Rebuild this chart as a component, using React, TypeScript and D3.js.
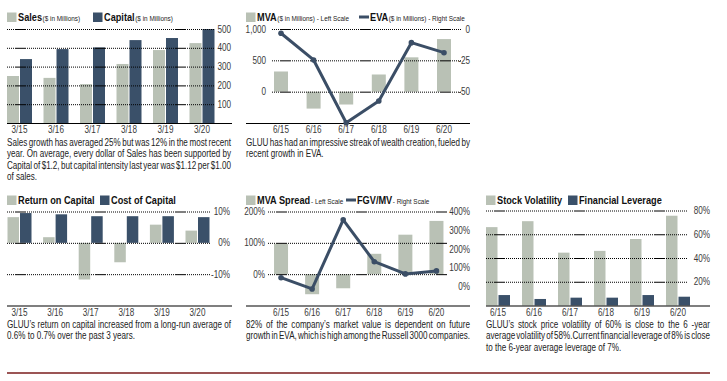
import React from "react";
import * as d3 from "d3";

const FONT = "'Liberation Sans', Arial, sans-serif";
const SX = 0.8; // horizontal condensing of the sans font
const LIGHT = "#b9c1b5";
const DARK = "#3a5069";
const LINE = "#3b4e66";
const TXT = "#222";

// Panel 1
const salesCats = ["3/15", "3/16", "3/17", "3/18", "3/19", "3/20"];
const sales = [250, 240, 207, 314, 388, 425];
const capital = [340, 393, 402, 441, 452, 500];
const salesTicks = [100, 200, 300, 400, 500];
// Panel 2
const mvaCats = ["6/15", "6/16", "6/17", "6/18", "6/19", "6/20"];
const mva = [322, -270, -205, 274, 548, 839];
const eva = [-3.4, -24.7, -74.8, -57.4, -10.9, -18.9];
const mvaTicks = [0, 500, 1000];
const evaTicks = [-50, -25, 0];
// Panel 3
const rocCats = ["3/15", "3/16", "3/17", "3/18", "3/19", "3/20"];
const roc = [8.2, 1.8, -11.7, -6.2, 5.8, 3.9];
const coc = [9.5, 9.1, 8.5, 8.5, 8.5, 8.2];
const rocTicks = [-10, 0, 10];
// Panel 4
const spreadCats = ["6/15", "6/16", "6/17", "6/18", "6/19", "6/20"];
const mvaSpread = [97, -64, -45, 65, 126, 170];
const fgvMv = [48, -12, 356, 133, 68, 84];
const spreadTicks = [0, 100, 200];
const fgvTicks = [0, 100, 200, 300, 400];
// Panel 5
const volCats = ["6/15", "6/16", "6/17", "6/18", "6/19", "6/20"];
const volatility = [66, 71, 44.5, 46, 56, 75.6];
const leverage = [8.8, 5.5, 6.6, 6.6, 8.8, 7.4];
const volTicks = [20, 40, 60, 80];

const caption1 = [
  "Sales growth has averaged 25% but was 12% in the most recent",
  "year. On average, every dollar of Sales has been supported by",
  "Capital of $1.2, but capital intensity last year was $1.12 per $1.00",
  "of sales.",
];
const caption2 = [
  "GLUU has had an impressive streak of wealth creation, fueled by",
  "recent growth in EVA.",
];
const caption3 = [
  "GLUU’s return on capital increased from a long-run average of",
  "0.6% to 0.7% over the past 3 years.",
];
const caption4 = [
  "82% of the company’s market value is dependent on future",
  "growth in EVA, which is high among the Russell 3000 companies.",
];
const caption5 = [
  "GLUU’s stock price volatility of 60%  is close to the 6 -year",
  "average volatility of 58%.Current financial leverage of 8% is close",
  "to the 6-year average leverage of 7%.",
];

const fmt = d3.format(",");
const pct = (v: number) => `${v}%`;

// dotted grid with a short solid dash every 80px
const gridDash = (() => {
  const a: number[] = [];
  for (let i = 0; i < 4; i++) a.push(1, 1);
  a.push(11, 1);
  for (let i = 0; i < 30; i++) a.push(1, 1);
  return a.join(",");
})();

let ctx: CanvasRenderingContext2D | null = null;
function measure(s: string, size: number, weight = "normal", sx = SX) {
  if (!ctx) ctx = document.createElement("canvas").getContext("2d");
  ctx!.font = `${weight} ${size}px ${FONT}`;
  return ctx!.measureText(s).width * sx;
}

function T({ x, y, size, weight = "normal", anchor = "start", fill = TXT, sx = SX, children }: any) {
  return (
    <text
      transform={`translate(${x},${y}) scale(${sx},1)`}
      fontFamily={FONT}
      fontSize={size}
      fontWeight={weight}
      textAnchor={anchor}
      fill={fill}
    >
      {children}
    </text>
  );
}

const CAP_SX = 0.77;
function Para({ x, y, width, lines, size, lh, justifyLast = false }: any) {
  return (
    <g>
      {lines.map((line: string, li: number) => {
        const words = line.split(/ +/);
        const last = li === lines.length - 1 && !justifyLast;
        const ws = words.map((w) => measure(w, size, "normal", CAP_SX));
        const total = ws.reduce((a, b) => a + b, 0);
        const space = measure(" ", size, "normal", CAP_SX);
        const gap = last || words.length < 2 ? space : (width - total) / (words.length - 1);
        let cx = x;
        return words.map((w, wi) => {
          const el = (
            <T key={li + "-" + wi} x={cx} y={y + li * lh} size={size} sx={CAP_SX}>
              {w}
            </T>
          );
          cx += ws[wi] + gap;
          return el;
        });
      })}
    </g>
  );
}

function Legend({ y, items }: any) {
  return (
    <g>
      {items.map((it: any, i: number) => {
        const lw = measure(it.label, 11.5, "bold");
        return (
          <g key={i}>
            {it.kind === "rect" ? (
              <rect x={it.x} y={y - 8.5} width={9.5} height={9.5} fill={it.color} />
            ) : (
              <line x1={it.x} x2={it.x + 10} y1={y - 4} y2={y - 4} stroke={it.color} strokeWidth={3} />
            )}
            <T x={it.x + 11} y={y} size={11.5} weight="bold" fill="#111">
              {it.label}
            </T>
            {it.sub ? (
              <T x={it.x + 11 + lw + 0.5} y={y} size={8} fill="#222">
                {it.sub}
              </T>
            ) : null}
          </g>
        );
      })}
    </g>
  );
}

function Grid({ x1, x2, ys }: any) {
  return (
    <g>
      {ys.map((y: number, i: number) => (
        <line key={i} x1={x1} x2={x2} y1={y} y2={y} stroke="#000" strokeWidth={1} strokeDasharray={gridDash} />
      ))}
    </g>
  );
}

function TickLabels({ x, ticks, scale, format, anchor = "end" }: any) {
  return (
    <g>
      {ticks.map((t: number) => (
        <T key={t} x={x} y={scale(t) + 3.5} size={10.2} anchor={anchor} fill="#3a3a3a">
          {format(t)}
        </T>
      ))}
    </g>
  );
}

function CatLabels({ cats, xs, y }: any) {
  return (
    <g>
      {cats.map((c: string, i: number) => (
        <T key={c + i} x={xs(c)} y={y} size={10.2} anchor="middle" fill="#3a3a3a">
          {c}
        </T>
      ))}
    </g>
  );
}

function PairedBars({ cats, band, a, b, y, w, colorA, colorB }: any) {
  const y0 = y(0);
  return (
    <g>
      {cats.map((c: string, i: number) => {
        const cx = band(c)! + band.bandwidth() / 2;
        const ya = y(a[i]);
        const yb = y(b[i]);
        return (
          <g key={c + i}>
            <rect x={cx - w - 0.5} width={w} y={Math.min(ya, y0)} height={Math.abs(y0 - ya)} fill={colorA} />
            <rect x={cx + 0.5} width={w} y={Math.min(yb, y0)} height={Math.abs(y0 - yb)} fill={colorB} />
          </g>
        );
      })}
    </g>
  );
}

function SingleBars({ cats, band, v, y, w, color }: any) {
  const y0 = y(0);
  return (
    <g>
      {cats.map((c: string, i: number) => {
        const cx = band(c)! + band.bandwidth() / 2;
        const yv = y(v[i]);
        return <rect key={c + i} x={cx - w / 2} width={w} y={Math.min(yv, y0)} height={Math.abs(y0 - yv)} fill={color} />;
      })}
    </g>
  );
}

function LineSeries({ cats, band, v, y }: any) {
  const pts: [number, number][] = cats.map((c: string, i: number) => [band(c)! + band.bandwidth() / 2, y(v[i])]);
  const path = d3.line()(pts) || "";
  return (
    <g>
      <path d={path} fill="none" stroke={LINE} strokeWidth={3} strokeLinejoin="round" />
      {pts.map((p, i) => (
        <circle key={i} cx={p[0]} cy={p[1]} r={2.8} fill={LINE} />
      ))}
    </g>
  );
}

export default function App() {
  const b1 = d3.scaleBand<string>().domain(salesCats).range([1.25, 220.25]);
  const y1 = d3.scaleLinear().domain([0, 500]).range([123, 29]);
  const c1 = (c: string) => b1(c)! + b1.bandwidth() / 2;

  const b2 = d3.scaleBand<string>().domain(mvaCats).range([264.7, 460.3]);
  const y2 = d3.scaleLinear().domain([-500, 1000]).range([123, 29]);
  const y2r = d3.scaleLinear().domain([-75, 0]).range([123, 29]);
  const c2 = (c: string) => b2(c)! + b2.bandwidth() / 2;

  const b3 = d3.scaleBand<string>().domain(rocCats).range([1.7, 215.3]);
  const y3 = d3.scaleLinear().domain([-20, 10]).range([305.5, 211.5]);
  const c3 = (c: string) => b3(c)! + b3.bandwidth() / 2;

  const b4 = d3.scaleBand<string>().domain(spreadCats).range([265.5, 452]);
  const y4 = d3.scaleLinear().domain([-100, 200]).range([305.5, 211.5]);
  const y4r = d3.scaleLinear().domain([-100, 400]).range([305.5, 211.5]);
  const c4 = (c: string) => b4(c)! + b4.bandwidth() / 2;

  const b5 = d3.scaleBand<string>().domain(volCats).range([480, 696]);
  const y5 = d3.scaleLinear().domain([0, 80]).range([305.5, 210.5]);
  const c5 = (c: string) => b5(c)! + b5.bandwidth() / 2;

  return (
    <div style={{ position: "absolute", left: 0, top: 0 }}>
      <svg width={727} height={381} style={{ display: "block", background: "#fff" }}>
        {/* Panel 1 */}
        <Legend
          y={21}
          items={[
            { x: 7, kind: "rect", color: LIGHT, label: "Sales", sub: "($ in Millions)" },
            { x: 93, kind: "rect", color: DARK, label: "Capital", sub: "($ in Millions)" },
          ]}
        />
        <PairedBars cats={salesCats} band={b1} a={sales} b={capital} y={y1} w={12} colorA={LIGHT} colorB={DARK} />
        <Grid x1={7} x2={215} ys={salesTicks.map((t) => y1(t) + 0.5)} />
        <line x1={7} x2={232} y1={y1(0) + 0.5} y2={y1(0) + 0.5} stroke="#000" strokeWidth={1.2} />
        <TickLabels x={231} ticks={salesTicks} scale={y1} format={(v: number) => String(v)} />
        <CatLabels cats={salesCats} xs={c1} y={132.5} />
        <Para x={7} y={145.5} width={224} lines={caption1} size={10.5} lh={11.6} />

        {/* Panel 2 */}
        <Legend
          y={21}
          items={[
            { x: 246, kind: "rect", color: LIGHT, label: "MVA", sub: "($ in Millions) - Left Scale" },
            { x: 359, kind: "line", color: LINE, label: "EVA", sub: "($ in Millions) - Right Scale" },
          ]}
        />
        <SingleBars cats={mvaCats} band={b2} v={mva} y={y2} w={14} color={LIGHT} />
        <Grid x1={272} x2={462} ys={mvaTicks.map((t) => y2(t) + 0.5)} />
        <line x1={246} x2={470} y1={123.5} y2={123.5} stroke="#000" strokeWidth={1.2} />
        <LineSeries cats={mvaCats} band={b2} v={eva} y={y2r} />
        <TickLabels x={266} ticks={mvaTicks} scale={y2} format={fmt} />
        <TickLabels x={470} ticks={evaTicks} scale={y2r} format={(v: number) => String(v)} />
        <CatLabels cats={mvaCats} xs={c2} y={132.5} />
        <Para x={246} y={145.5} width={224} lines={caption2} size={10.5} lh={11.6} />

        {/* Panel 3 */}
        <Legend
          y={204}
          items={[
            { x: 7, kind: "rect", color: LIGHT, label: "Return on Capital" },
            { x: 100, kind: "rect", color: DARK, label: "Cost of Capital" },
          ]}
        />
        <PairedBars cats={rocCats} band={b3} a={roc} b={coc} y={y3} w={11.5} colorA={LIGHT} colorB={DARK} />
        <Grid x1={7} x2={210} ys={rocTicks.map((t) => y3(t) + 0.5)} />
        <line x1={7} x2={232} y1={306} y2={306} stroke="#000" strokeWidth={1.2} />
        <TickLabels x={230} ticks={rocTicks} scale={y3} format={pct} />
        <CatLabels cats={rocCats} xs={c3} y={316} />
        <Para x={7} y={327.5} width={224} lines={caption3} size={10.5} lh={11.6} />

        {/* Panel 4 */}
        <Legend
          y={204}
          items={[
            { x: 246, kind: "rect", color: LIGHT, label: "MVA Spread", sub: " - Left Scale" },
            { x: 346, kind: "line", color: LINE, label: "FGV/MV", sub: " - Right Scale" },
          ]}
        />
        <SingleBars cats={spreadCats} band={b4} v={mvaSpread} y={y4} w={14} color={LIGHT} />
        <Grid x1={268} x2={448} ys={spreadTicks.map((t) => y4(t) + 0.5)} />
        <line x1={246} x2={470} y1={306} y2={306} stroke="#000" strokeWidth={1.2} />
        <LineSeries cats={spreadCats} band={b4} v={fgvMv} y={y4r} />
        <TickLabels x={265} ticks={spreadTicks} scale={y4} format={pct} />
        <TickLabels x={470} ticks={fgvTicks} scale={y4r} format={pct} />
        <CatLabels cats={spreadCats} xs={c4} y={316} />
        <Para x={246} y={327.5} width={224} lines={caption4} size={10.5} lh={11.6} justifyLast />

        {/* Panel 5 */}
        <Legend
          y={204}
          items={[
            { x: 486, kind: "rect", color: LIGHT, label: "Stock Volatility" },
            { x: 568, kind: "rect", color: DARK, label: "Financial Leverage" },
          ]}
        />
        <PairedBars cats={volCats} band={b5} a={volatility} b={leverage} y={y5} w={11.5} colorA={LIGHT} colorB={DARK} />
        <Grid x1={486} x2={688} ys={volTicks.map((t) => y5(t) + 0.5)} />
        <line x1={486} x2={710} y1={306} y2={306} stroke="#000" strokeWidth={1.2} />
        <TickLabels x={710} ticks={volTicks} scale={y5} format={pct} />
        <CatLabels cats={volCats} xs={c5} y={316} />
        <Para x={486} y={327.5} width={224} lines={caption5} size={10.5} lh={11.6} />

        {/* Footer rule */}
        <line x1={7} x2={710} y1={373} y2={373} stroke="#7a1c1c" strokeWidth={1.5} />
      </svg>
    </div>
  );
}
